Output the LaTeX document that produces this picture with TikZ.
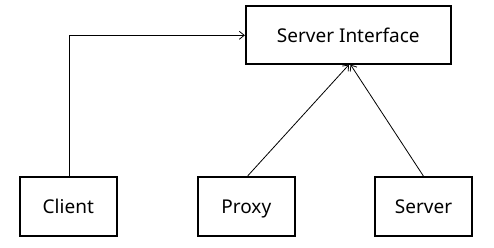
\documentclass[tikz,border=0pt]{standalone}
\usepackage{fontspec}
\setmainfont{Noto Sans}
\usetikzlibrary{arrows.meta}
\begin{document}
\begin{tikzpicture}[x=1pt,y=-1pt,
  box/.style={draw,line width=1.8pt,inner sep=0pt,text height=17pt,text depth=2pt,font=\fontsize{19}{22}\selectfont},
  conn/.style={line width=0.8pt,-{Straight Barb[length=5pt,width=8pt]}}]
\useasboundingbox (0,0) rectangle (494,248);
\node[box,minimum width=205pt,minimum height=58pt] (si) at (348.3,34.7) {Server Interface};
\node[box,minimum width=97pt,minimum height=59pt] (client) at (68.3,206.3) {Client};
\node[box,minimum width=97pt,minimum height=59pt] (proxy) at (246.3,206.3) {Proxy};
\node[box,minimum width=97pt,minimum height=59pt] (server) at (423.5,206.3) {Server};
\draw[conn] (client.north -| 69.3,0) |- (si.west |- 0,35.3);
\draw[conn] (proxy.north -| 247.7,0) -- (si.south -| 349,0);
\draw[conn] (server.north -| 423.3,0) -- (si.south -| 350.5,0);
\end{tikzpicture}
\end{document}
